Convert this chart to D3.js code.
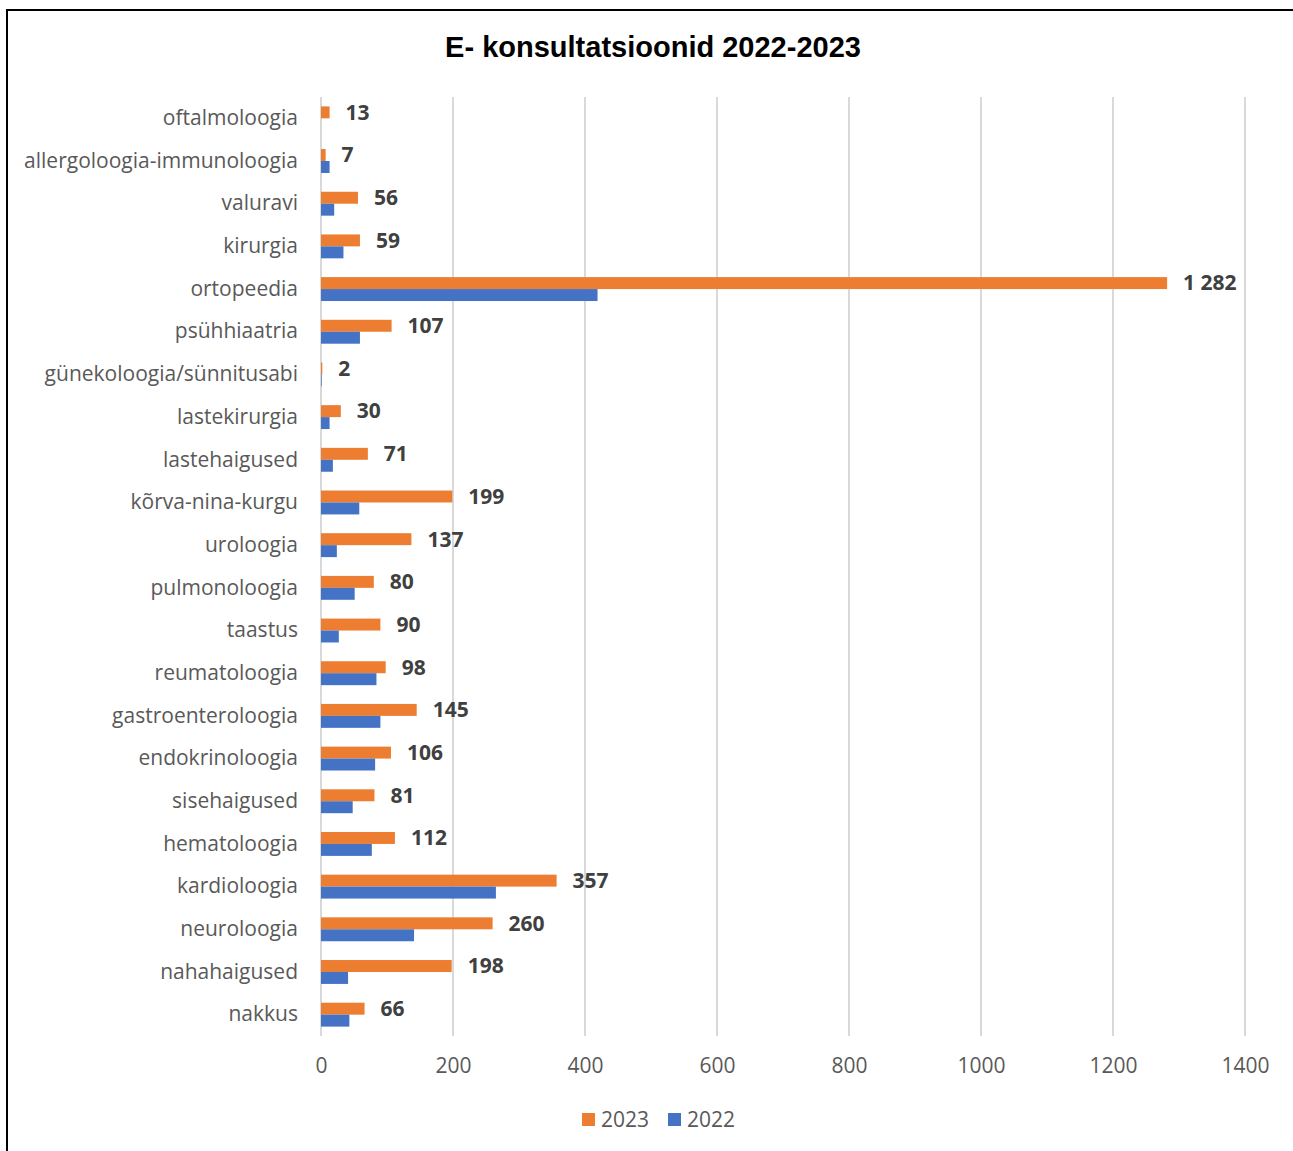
<!DOCTYPE html>
<html>
<head>
<meta charset="utf-8">
<script src="https://cdn.jsdelivr.net/npm/d3@7"></script>
<style>
  body { margin: 0; background: #fff; }
  svg { display: block; }
</style>
</head>
<body>
<div class="grafico"></div>
<script>
// andmed
const categories = [
  "oftalmoloogia", "allergoloogia-immunoloogia", "valuravi", "kirurgia", "ortopeedia",
  "psühhiaatria", "günekoloogia/sünnitusabi", "lastekirurgia", "lastehaigused",
  "kõrva-nina-kurgu", "uroloogia", "pulmonoloogia", "taastus", "reumatoloogia",
  "gastroenteroloogia", "endokrinoloogia", "sisehaigused", "hematoloogia",
  "kardioloogia", "neuroloogia", "nahahaigused", "nakkus"
];
const values2023 = [13, 7, 56, 59, 1282, 107, 2, 30, 71, 199, 137, 80, 90, 98, 145, 106, 81, 112, 357, 260, 198, 66];
const values2022 = [0, 13, 20, 34, 419, 59, 1, 13, 18, 58, 24, 51, 27, 84, 90, 82, 48, 77, 265, 141, 41, 43];
const xTicks = [0, 200, 400, 600, 800, 1000, 1200, 1400];
const seriesNames = ["2023", "2022"];
const colors = { "2023": "#ED7D31", "2022": "#4472C4" };

const W = 1293, H = 1151;
const margin = { top: 97, right: 48, bottom: 115, left: 321 };

const svg = d3.select(".grafico")
  .append("svg")
  .attr("width", W)
  .attr("height", H);

// raam
svg.append("rect")
  .attr("x", 7).attr("y", 10)
  .attr("width", W + 20).attr("height", H + 20)
  .attr("fill", "none")
  .attr("stroke", "#000")
  .attr("stroke-width", 2);

svg.append("text")
  .attr("x", 653).attr("y", 57)
  .attr("text-anchor", "middle")
  .attr("font-family", "Liberation Sans, Arial, sans-serif")
  .attr("font-weight", "bold")
  .attr("font-size", 29)
  .attr("fill", "#000")
  .text("E- konsultatsioonid 2022-2023");

const xScale = d3.scaleLinear()
  .domain([0, 1400])
  .range([margin.left, 1245]);

const yScale = d3.scaleBand()
  .domain(categories)
  .range([margin.top, 1036])
  .paddingInner(0.44)
  .paddingOuter(0.22);

const ySub = d3.scaleBand()
  .domain(seriesNames)
  .range([0, yScale.bandwidth()]);

// ruudustik
svg.append("g")
  .selectAll("line")
  .data(xTicks)
  .join("line")
  .attr("x1", d => xScale(d))
  .attr("x2", d => xScale(d))
  .attr("y1", margin.top)
  .attr("y2", 1036)
  .attr("stroke", "#d9d9d9")
  .attr("stroke-width", 2);

const xAxis = svg.append("g")
  .attr("transform", "translate(0,1036)")
  .call(d3.axisBottom(xScale).tickValues(xTicks).tickSize(0).tickPadding(22).tickFormat(d3.format("d")));
xAxis.select(".domain").remove();
xAxis.selectAll("text")
  .attr("font-family", "Open Sans, sans-serif")
  .attr("font-size", 21)
  .attr("fill", "#595959");

const yAxis = svg.append("g")
  .attr("transform", "translate(298,0)")
  .call(d3.axisLeft(yScale).tickSize(0).tickPadding(0));
yAxis.select(".domain").remove();
yAxis.selectAll("text")
  .attr("font-family", "Open Sans, sans-serif")
  .attr("font-size", 21)
  .attr("fill", "#595959")
  .attr("dy", "0.32em");

const rows = categories.map((c, i) => ({ cat: c, "2023": values2023[i], "2022": values2022[i] }));

const groups = svg.append("g")
  .selectAll("g")
  .data(rows)
  .join("g")
  .attr("transform", d => "translate(0," + yScale(d.cat) + ")");

groups.selectAll("rect")
  .data(d => seriesNames.map(s => ({ s: s, v: d[s] })))
  .join("rect")
  .attr("x", xScale(0))
  .attr("y", d => ySub(d.s))
  .attr("width", d => xScale(d.v) - xScale(0))
  .attr("height", ySub.bandwidth())
  .attr("fill", d => colors[d.s]);

const fmt = v => d3.format(",")(v).replace(/,/g, " ");

groups.append("text")
  .attr("x", d => xScale(d["2023"]) + 16)
  .attr("y", ySub("2023") + ySub.bandwidth() / 2)
  .attr("dy", "0.35em")
  .attr("font-family", "Open Sans, sans-serif")
  .attr("font-weight", "bold")
  .attr("font-size", 21)
  .attr("fill", "#404040")
  .text(d => fmt(d["2023"]));

// legend
const legendX = [582, 668];
const legend = svg.append("g")
  .selectAll("g")
  .data(seriesNames)
  .join("g")
  .attr("transform", (d, i) => "translate(" + legendX[i] + ",1113)");
legend.append("rect")
  .attr("width", 13).attr("height", 13)
  .attr("fill", d => colors[d]);
legend.append("text")
  .attr("x", 19).attr("y", 7)
  .attr("dy", "0.35em")
  .attr("font-family", "Open Sans, sans-serif")
  .attr("font-size", 21)
  .attr("fill", "#595959")
  .text(d => d);
</script>
</body>
</html>
